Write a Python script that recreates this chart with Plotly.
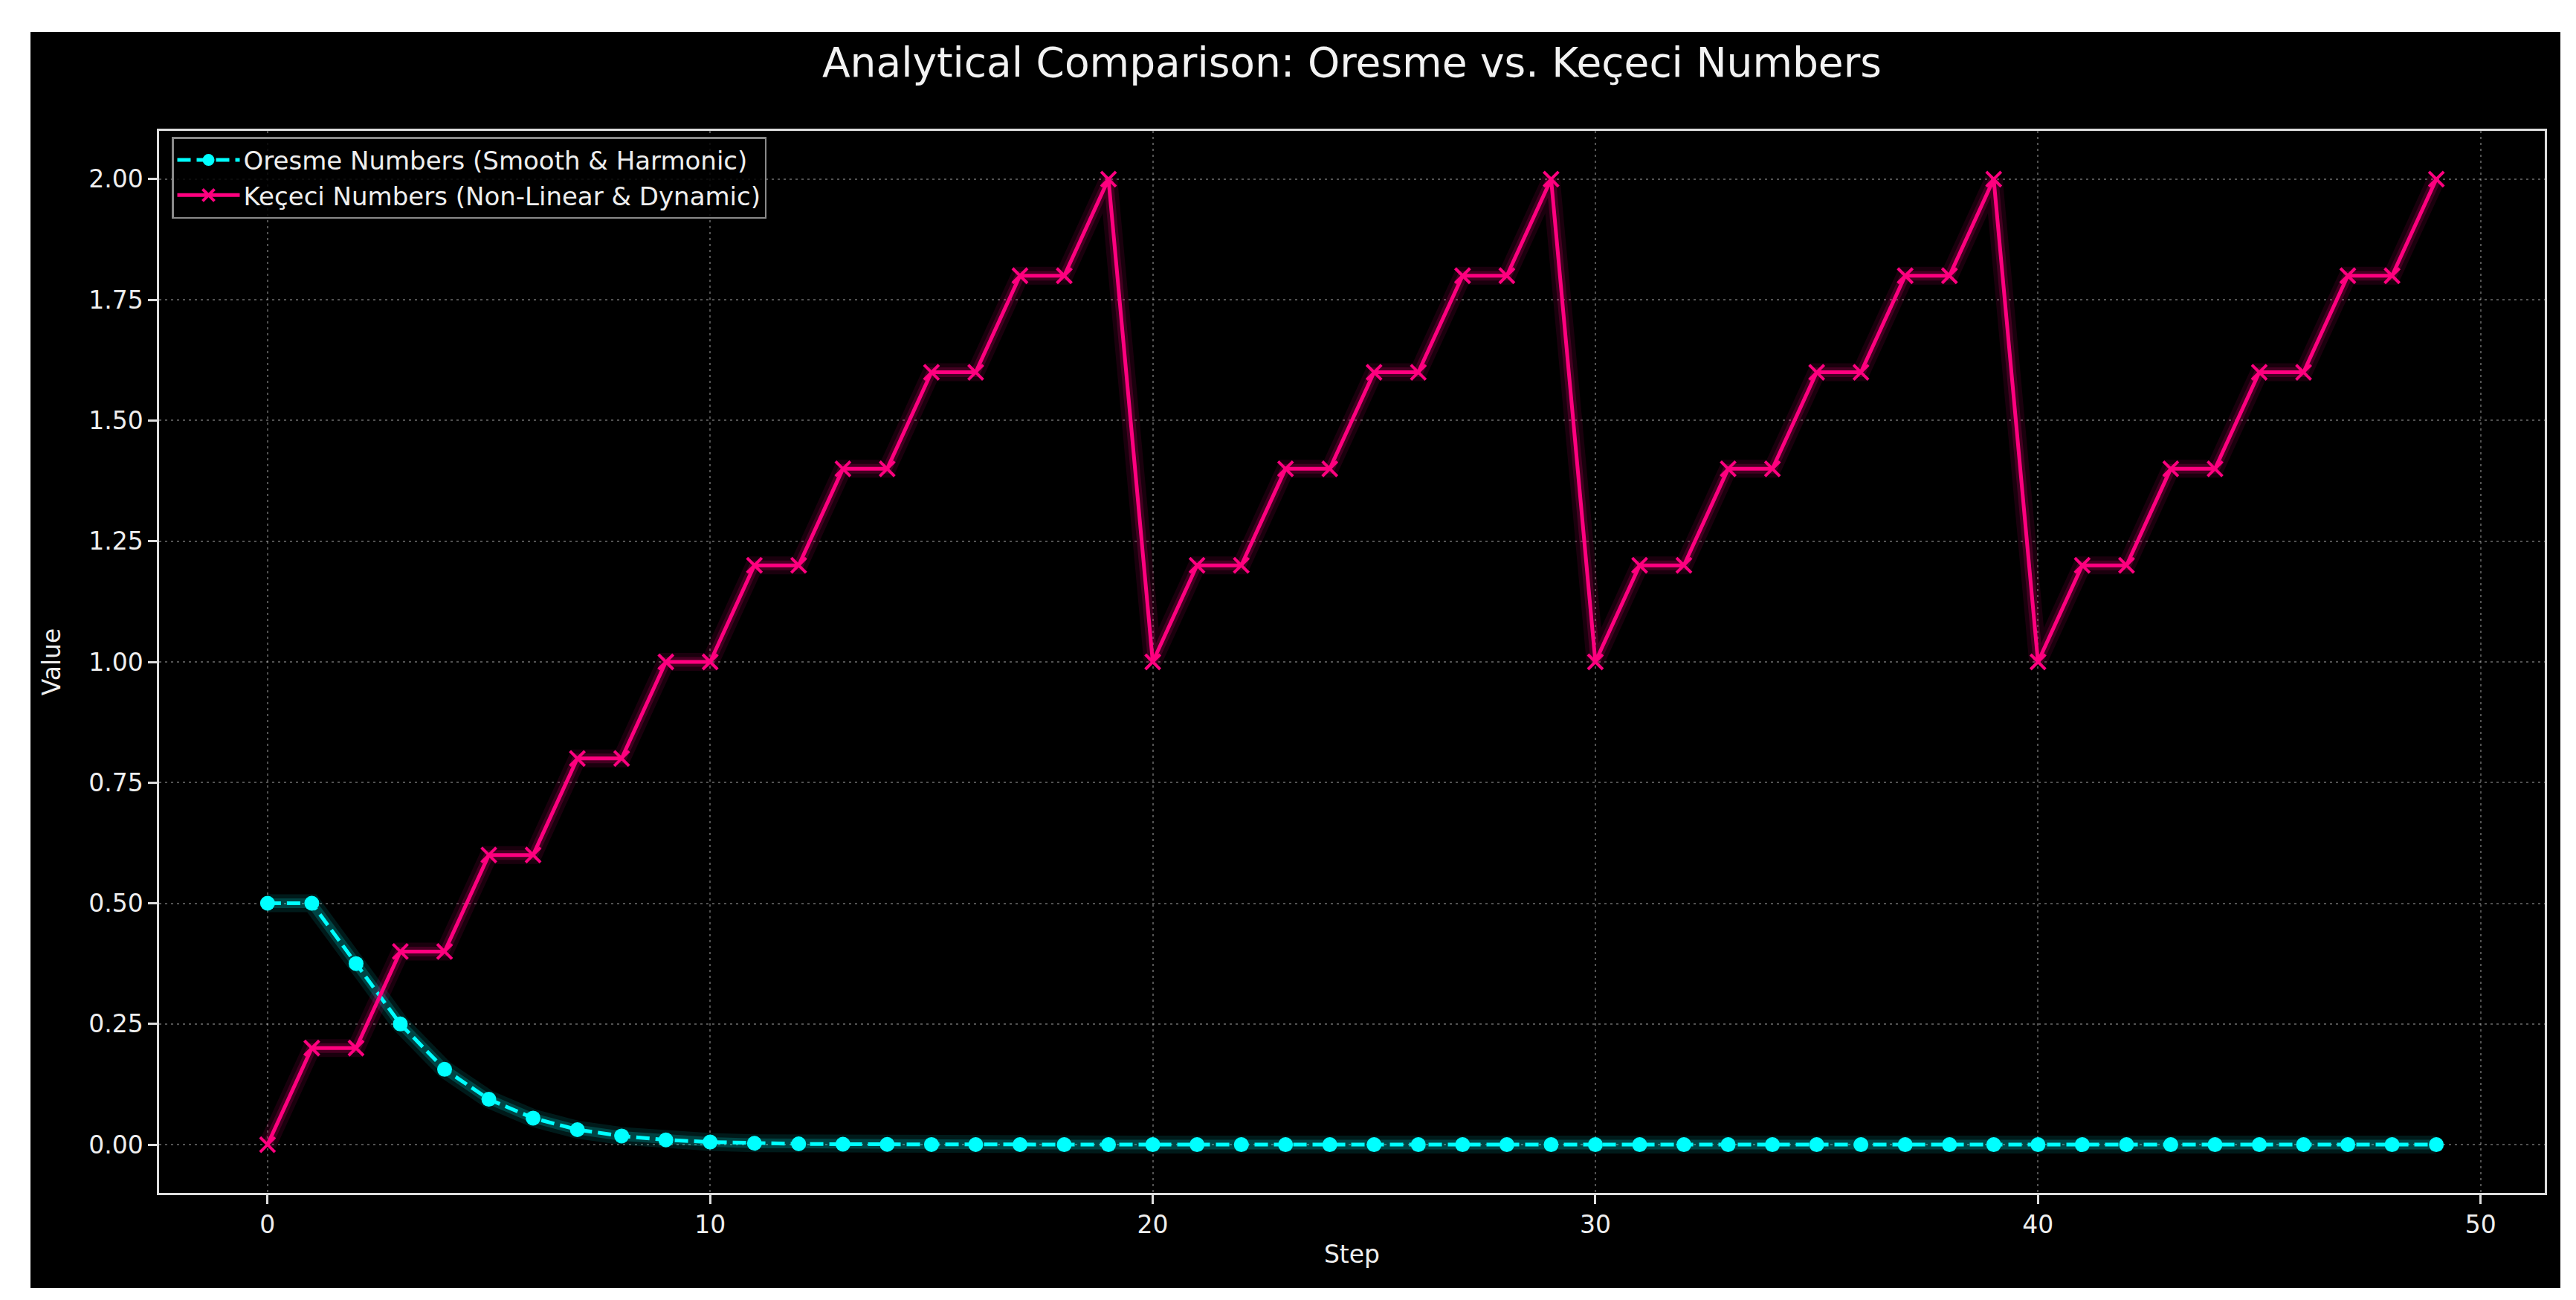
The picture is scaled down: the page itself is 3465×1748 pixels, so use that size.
import plotly.graph_objects as go

steps = list(range(50))
oresme = [0.5, 0.5, 0.375, 0.25, 0.156, 0.094, 0.055, 0.031, 0.018, 0.0098,
          0.0054, 0.0029, 0.0016, 0.00085, 0.00046, 0.00024, 0.00013, 0.00007, 0.00004, 0.00002,
          0.0, 0.0, 0.0, 0.0, 0.0, 0.0, 0.0, 0.0, 0.0, 0.0,
          0.0, 0.0, 0.0, 0.0, 0.0, 0.0, 0.0, 0.0, 0.0, 0.0,
          0.0, 0.0, 0.0, 0.0, 0.0, 0.0, 0.0, 0.0, 0.0, 0.0]
kececi = [0.0, 0.2, 0.2, 0.4, 0.4, 0.6, 0.6, 0.8, 0.8, 1.0,
          1.0, 1.2, 1.2, 1.4, 1.4, 1.6, 1.6, 1.8, 1.8, 2.0,
          1.0, 1.2, 1.2, 1.4, 1.4, 1.6, 1.6, 1.8, 1.8, 2.0,
          1.0, 1.2, 1.2, 1.4, 1.4, 1.6, 1.6, 1.8, 1.8, 2.0,
          1.0, 1.2, 1.2, 1.4, 1.4, 1.6, 1.6, 1.8, 1.8, 2.0]
y_ticks = [0.0, 0.25, 0.5, 0.75, 1.0, 1.25, 1.5, 1.75, 2.0]
x_ticks = [0, 10, 20, 30, 40, 50]

CYAN = "#00FFFF"
PINK = "#FF007F"
FONT = "DejaVu Sans"

W, H = 3465, 1748
L, R, T, B = 206, 50, 168, 152
pw, ph = W - L - R, H - T - B

fig = go.Figure()

# glow layers
for wdt, op in [(24, 0.10), (13, 0.18)]:
    fig.add_trace(go.Scatter(x=steps, y=oresme, mode="lines", showlegend=False, hoverinfo="skip",
                             line=dict(color=CYAN, width=wdt), opacity=op))
    fig.add_trace(go.Scatter(x=steps, y=kececi, mode="lines", showlegend=False, hoverinfo="skip",
                             line=dict(color=PINK, width=wdt), opacity=op))

fig.add_trace(go.Scatter(
    x=steps, y=oresme, mode="lines+markers",
    name="Oresme Numbers (Smooth & Harmonic)",
    line=dict(color=CYAN, width=5, dash="18px,8px"),
    marker=dict(symbol="circle", size=20, color=CYAN, line=dict(width=0)),
))
fig.add_trace(go.Scatter(
    x=steps, y=kececi, mode="lines+markers",
    name="Keçeci Numbers (Non-Linear & Dynamic)",
    line=dict(color=PINK, width=5),
    marker=dict(symbol="x-thin", size=20, color=PINK, line=dict(width=4, color=PINK)),
))

# black figure background box
fig.add_shape(type="rect", xref="paper", yref="paper",
              x0=(33 - L) / pw, x1=(3436 - L) / pw,
              y0=(H - B - 1724) / ph, y1=(H - B - 35) / ph,
              fillcolor="black", line=dict(width=0), layer="below")

axis_common = dict(
    showline=True, linecolor="#dddddd", linewidth=2.5, mirror=True,
    ticks="outside", ticklen=12, tickwidth=2.5, tickcolor="#dddddd",
    showgrid=True, gridcolor="rgba(255,255,255,0.32)", gridwidth=2, griddash="3px,5px",
    zeroline=False,
    tickfont=dict(family=FONT, size=33, color="#eeeeee"),
    title_font=dict(family=FONT, size=33, color="#eeeeee"),
)

fig.update_xaxes(range=[-2.45, 51.45], tickvals=x_ticks, ticktext=[str(v) for v in x_ticks],
                 title_text="Step", title_standoff=10, **axis_common)
fig.update_yaxes(range=[-0.1, 2.1], tickvals=y_ticks, ticktext=[f"{v:.2f}" for v in y_ticks],
                 title_text="Value", title_standoff=28, **axis_common)

fig.update_layout(
    width=W, height=H,
    margin=dict(l=L, r=R, t=T, b=B),
    paper_bgcolor="white", plot_bgcolor="black",
    font=dict(family=FONT, color="#eeeeee"),
    title=dict(text="Analytical Comparison: Oresme vs. Keçeci Numbers",
               x=(L + pw / 2) / W, xanchor="center", y=1 - 76 / H, yanchor="middle", yref="container",
               font=dict(family=FONT, size=55, color="#f2f2f2")),
    legend=dict(x=(223 - L) / pw, y=(H - B - 176) / ph, xanchor="left", yanchor="top",
                bgcolor="rgba(0,0,0,0.85)", bordercolor="#8a8a8a", borderwidth=2.5,
                font=dict(family=FONT, size=34, color="#eeeeee"), itemwidth=84),
    showlegend=True,
)

fig.write_html("out.html")
